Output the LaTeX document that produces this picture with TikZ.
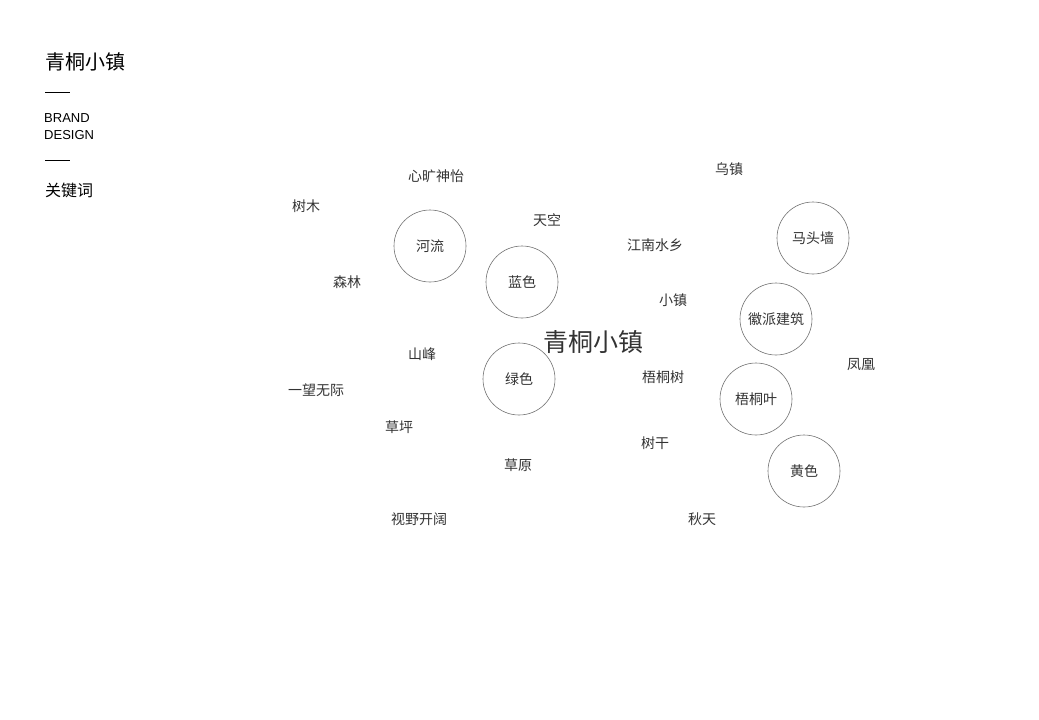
\documentclass[tikz,border=0pt]{standalone}
\usepackage{fontspec}
\setmainfont{Liberation Sans}
\newfontfamily\cjk{Noto Sans CJK SC}
\begin{document}
\begin{tikzpicture}[x=1pt,y=-1pt,
  word/.style={font=\cjk\fontsize{14}{16}\selectfont,text=black!80,inner sep=0pt},
  ring/.style={circle,draw=black!55,line width=0.6pt,minimum size=72pt,inner sep=0pt,font=\cjk\fontsize{14}{16}\selectfont,text=black!80}]
\useasboundingbox[fill=white] (0,0) rectangle (1039,720);
\node[anchor=west,font=\cjk\fontsize{20}{22}\selectfont,inner sep=0pt] (t) at (45,62) {青桐小镇};
\coordinate (l1a) at (45,92); \coordinate (l1b) at (70,92);
\draw[line width=0.8pt] (l1a) -- (l1b);
\node[anchor=west,font=\fontsize{13}{14}\selectfont,inner sep=0pt] (b) at (44,118) {BRAND};
\node[anchor=west,font=\fontsize{13}{14}\selectfont,inner sep=0pt] (d) at (44,135) {DESIGN};
\coordinate (l2a) at (45,160); \coordinate (l2b) at (70,160);
\draw[line width=0.8pt] (l2a) -- (l2b);
\node[anchor=west,font=\cjk\fontsize{16}{18}\selectfont,inner sep=0pt] (k) at (45,190) {关键词};

\node[ring] (c1) at (430,246) {河流};
\node[ring] (c2) at (522,282) {蓝色};
\node[ring] (c3) at (519,379) {绿色};
\node[ring] (c4) at (813,238) {马头墙};
\node[ring] (c5) at (776,319) {徽派建筑};
\node[ring] (c6) at (756,399) {梧桐叶};
\node[ring] (c7) at (804,471) {黄色};

\node[word] (w1) at (436,176) {心旷神怡};
\node[word] (w2) at (729,169) {乌镇};
\node[word] (w3) at (306,206) {树木};
\node[word] (w4) at (547,220) {天空};
\node[word] (w5) at (655,245) {江南水乡};
\node[word] (w6) at (347,282) {森林};
\node[word] (w7) at (673,300) {小镇};
\node[word,font=\cjk\fontsize{25}{28}\selectfont] (w8) at (593,342) {青桐小镇};
\node[word] (w9) at (422,354) {山峰};
\node[word] (w10) at (861,365) {凤凰};
\node[word] (w11) at (663,377) {梧桐树};
\node[word] (w12) at (316,390) {一望无际};
\node[word] (w13) at (399,427) {草坪};
\node[word] (w14) at (655,443) {树干};
\node[word] (w15) at (518,465) {草原};
\node[word] (w16) at (419,519) {视野开阔};
\node[word] (w17) at (702,519) {秋天};
\end{tikzpicture}
\end{document}
